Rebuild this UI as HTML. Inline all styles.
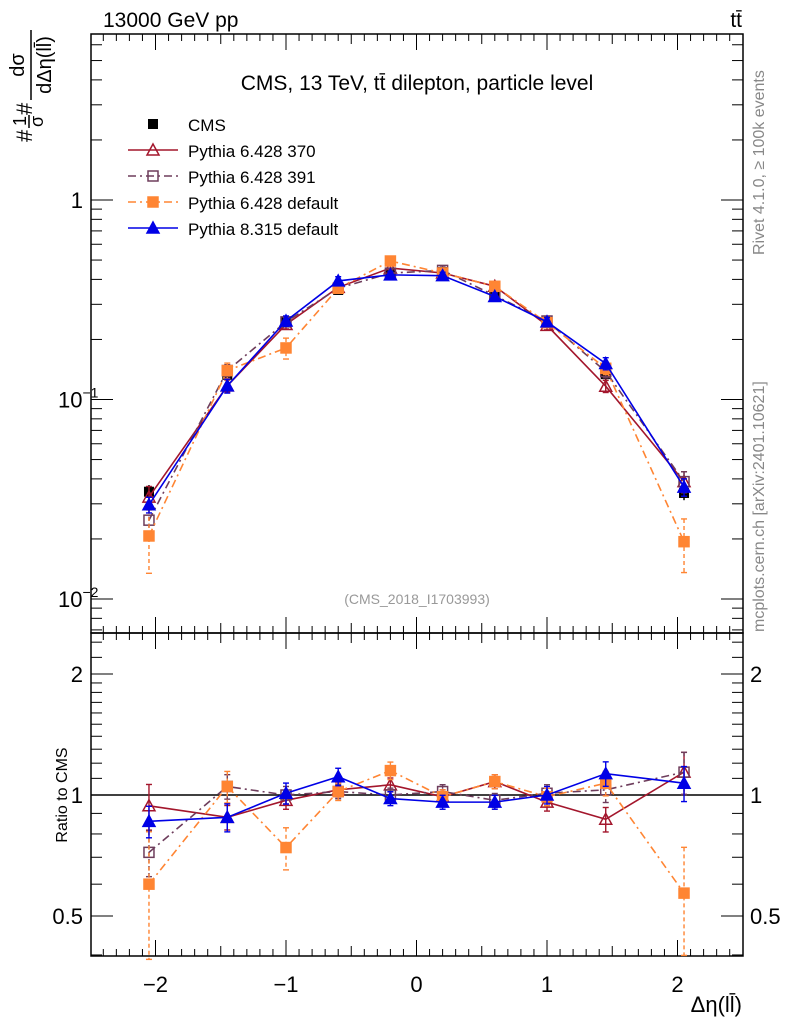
<!DOCTYPE html>
<html><head><meta charset="utf-8"><style>
html,body{margin:0;padding:0;background:#fff;}
svg{display:block;font-family:"Liberation Sans",sans-serif;}
</style></head><body>
<svg id="chart" width="786" height="1024" viewBox="0 0 786 1024">
<g id="g"></g>
<text x="103" y="27" font-size="21">13000 GeV pp</text>
<text x="742" y="27" font-size="21" text-anchor="end">tt̄</text>
<text x="417" y="90" font-size="21" text-anchor="middle">CMS, 13 TeV, tt̄ dilepton, particle level</text>
<text x="417" y="604" font-size="14" fill="#999" text-anchor="middle">(CMS_2018_I1703993)</text>
<text transform="translate(764,255) rotate(-90)" font-size="16" fill="#888">Rivet 4.1.0, ≥ 100k events</text>
<text transform="translate(764,632) rotate(-90)" font-size="16" fill="#888">mcplots.cern.ch [arXiv:2401.10621]</text>
<g transform="translate(40,142) rotate(-90)">
<text x="0" y="-8" font-size="22">#</text><text x="16" y="-14" font-size="18">1</text><text x="15" y="3" font-size="18">σ</text><line x1="14" x2="27" y1="-11" y2="-11" stroke="#000" stroke-width="1.5"/><text x="27" y="-8" font-size="22">#</text>
<line x1="42" x2="112" y1="-9" y2="-9" stroke="#000" stroke-width="1.5"/><text x="77" y="-16" font-size="20" text-anchor="middle">dσ</text><text x="77" y="11" font-size="20" text-anchor="middle">dΔη(ll̄)</text>
</g>
<text transform="translate(67,795) rotate(-90)" font-size="16" text-anchor="middle">Ratio to CMS</text>
<text x="742" y="1012" font-size="22" text-anchor="end">Δη(ll̄)</text>
</svg>
<script>
const binCenters=[-2.05,-1.45,-1.0,-0.6,-0.2,0.2,0.6,1.0,1.45,2.05];
const cmsValues=[0.0345,0.133,0.245,0.354,0.43,0.435,0.342,0.245,0.134,0.034];
const cmsErrRel=[0.08,0.07,0.05,0.04,0.04,0.04,0.04,0.05,0.07,0.08];
const ratio370=[0.94,0.88,0.97,1.03,1.06,0.99,1.08,0.96,0.87,1.14];
const ratio391=[0.72,1.05,1.0,1.02,1.0,1.02,0.97,1.01,1.03,1.14];
const ratioDef6=[0.6,1.05,0.74,1.02,1.15,0.99,1.08,0.99,1.07,0.57];
const ratioPy8=[0.86,0.88,1.01,1.11,0.98,0.96,0.96,1.0,1.13,1.07];
const errRel370=[0.13,0.07,0.05,0.04,0.04,0.04,0.04,0.05,0.07,0.12];
const errRelDef6=[0.35,0.09,0.12,0.05,0.05,0.04,0.04,0.05,0.07,0.3];
const errRelPy8=[0.09,0.08,0.06,0.05,0.04,0.04,0.04,0.05,0.07,0.1];
const xTicks=[-2,-1,0,1,2];
const yTicksMain=[1,0.1,0.01];
const yTickLabelsMain=["1","10","10"];
const ratioTicks=[0.5,1,2];

const NS="http://www.w3.org/2000/svg";
const g=document.getElementById('g');
function el(tag,attrs,parent){const e=document.createElementNS(NS,tag);for(const k in attrs)e.setAttribute(k,attrs[k]);(parent||g).appendChild(e);return e;}
const L=91,R=743,T=34,MB=633,RB=956;
function X(v){return 416.5+130.5*v;}
function Y(v){return 200-199.5*Math.log10(v);}
function YR(v){return 795-121*Math.log2(v);}

let f=el('rect',{x:L,y:T,width:R-L,height:MB-T,fill:'none',stroke:'#000','stroke-width':1.5});

f=el('rect',{x:L,y:MB,width:R-L,height:RB-MB,fill:'none',stroke:'#000','stroke-width':1.5});


for(let i=-25;i<=25;i++){const v=i/10;const x=X(v);if(x<L+1||x>R-1)continue;
 const major=(i%10===0);const len=major?16:(i%5===0?10:7);
 [[T,1],[MB,-1],[MB,1],[RB,-1]].forEach(([y0,d])=>{el('line',{x1:x,x2:x,y1:y0,y2:y0+d*len,stroke:'#000','stroke-width':1});});}
xTicks.forEach(v=>{const t=el('text',{x:X(v),y:992,'font-size':22,'text-anchor':'middle'});t.textContent=(v<0?'\u2212':'')+Math.abs(v);
 });

for(let d=-3;d<=0;d++){for(let m=1;m<=9;m++){const v=m*Math.pow(10,d);const y=Y(v);if(y<T+1||y>MB-1)continue;const len=m===1?22:11;
 el('line',{x1:L,x2:L+len,y1:y,y2:y,stroke:'#000'});el('line',{x1:R,x2:R-len,y1:y,y2:y,stroke:'#000'});}}
yTicksMain.forEach((v,i)=>{const t=el('text',{x:v===1?83:58,y:Y(v)+8,'font-size':22,'text-anchor':v===1?'end':'start'});t.textContent=yTickLabelsMain[i];
 if(v!==1){const s=el('tspan',{dy:-10,'font-size':14},t);s.textContent=v===0.1?'\u22121':'\u22122';}
 });

[0.4,0.5,0.6,0.7,0.8,0.9,1,1.1,1.2,1.3,1.4,1.5,1.6,1.7,1.8,1.9,2,2.2,2.4].forEach(v=>{const y=YR(v);if(y<MB+1||y>RB-1)return;const len=ratioTicks.includes(v)?22:11;
 el('line',{x1:L,x2:L+len,y1:y,y2:y,stroke:'#000'});el('line',{x1:R,x2:R-len,y1:y,y2:y,stroke:'#000'});});
ratioTicks.forEach(v=>{let t=el('text',{x:83,y:YR(v)+8,'font-size':22,'text-anchor':'end'});t.textContent=String(v);
 
 t=el('text',{x:750,y:YR(v)+8,'font-size':22});t.textContent=String(v);
 });
el('line',{x1:L,x2:R,y1:YR(1),y2:YR(1),stroke:'#000','stroke-width':1.5});

const series=[
 {name:'pythia-6-428-370',ratio:ratio370,err:errRel370,color:'#a3162c',dash:'',marker:'tri-open'},
 {name:'pythia-6-428-391',ratio:ratio391,err:errRel370,color:'#6e3d5c',dash:'8,4,2,4',marker:'sq-open'},
 {name:'pythia-6-428-default',ratio:ratioDef6,err:errRelDef6,color:'#ff8533',dash:'8,4,2,4',marker:'sq-fill'},
 {name:'pythia-8-315-default',ratio:ratioPy8,err:errRelPy8,color:'#0000e6',dash:'',marker:'tri-fill'}];
function marker(type,x,y,color,par){
 if(type.startsWith('tri')){return el('path',{d:`M${x},${y-6}L${x+6},${y+5}L${x-6},${y+5}Z`,fill:type==='tri-fill'?color:'none',stroke:color,'stroke-width':1.5},par);}
 if(type==='cms')return el('rect',{x:x-5,y:y-5,width:10,height:10,fill:'#000'},par);
 return el('rect',{x:x-5,y:y-5,width:10,height:10,fill:type==='sq-fill'?color:'none',stroke:color,'stroke-width':1.5},par);}

const cmsG=el('g',{});
binCenters.forEach((c,i)=>{const v=cmsValues[i],e=cmsErrRel[i];
 el('line',{x1:X(c),x2:X(c),y1:Y(v*(1+e)),y2:Y(v*(1-e)),stroke:'#000','stroke-width':1.5},cmsG);
 const m=marker('cms',X(c),Y(v),'#000',cmsG);});

series.forEach(s=>{
 const sg=el('g',{});
 const rg=el('g',{});
 const vals=binCenters.map((c,i)=>cmsValues[i]*s.ratio[i]);
 el('polyline',{points:binCenters.map((c,i)=>X(c)+','+Y(vals[i])).join(' '),fill:'none',stroke:s.color,'stroke-width':1.6,'stroke-dasharray':s.dash},sg);
 el('polyline',{points:binCenters.map((c,i)=>X(c)+','+YR(s.ratio[i])).join(' '),fill:'none',stroke:s.color,'stroke-width':1.6,'stroke-dasharray':s.dash},rg);
 binCenters.forEach((c,i)=>{const e=s.err[i];const x=X(c);
  [[sg,Y(vals[i]*(1+e)),Y(vals[i]*(1-e)),Y(vals[i])],[rg,YR(s.ratio[i]*(1+e)),YR(s.ratio[i]*(1-e)),YR(s.ratio[i])]].forEach(([p,y1,y2,y])=>{
   el('line',{x1:x,x2:x,y1:y1,y2:y2,stroke:s.color,'stroke-width':1.4,'stroke-dasharray':s.dash?'4,3':''},p);
   el('line',{x1:x-3,x2:x+3,y1:y1,y2:y1,stroke:s.color,'stroke-width':1.4},p);
   el('line',{x1:x-3,x2:x+3,y1:y2,y2:y2,stroke:s.color,'stroke-width':1.4},p);
   const m=marker(s.marker,x,y,s.color,p);});
 });
});

const leg=[{marker:'cms',color:'#000',dash:null},...series.map(s=>({marker:s.marker,color:s.color,dash:s.dash}))];
const legLabels=['CMS','Pythia 6.428 370','Pythia 6.428 391','Pythia 6.428 default','Pythia 8.315 default'];
leg.forEach((l,i)=>{const y=124+26*i;const lg=el('g',{});
 if(l.dash!==null)el('line',{x1:128,x2:178,y1:y,y2:y,stroke:l.color,'stroke-width':1.6,'stroke-dasharray':l.dash},lg);
 if(l.marker==='cms')el('rect',{x:148,y:y-5,width:10,height:10,fill:'#000'},lg);else marker(l.marker,153,y,l.color,lg);
 const t=el('text',{x:188,y:y+7,'font-size':17},lg);t.textContent=legLabels[i];});
</script>
</body></html>
